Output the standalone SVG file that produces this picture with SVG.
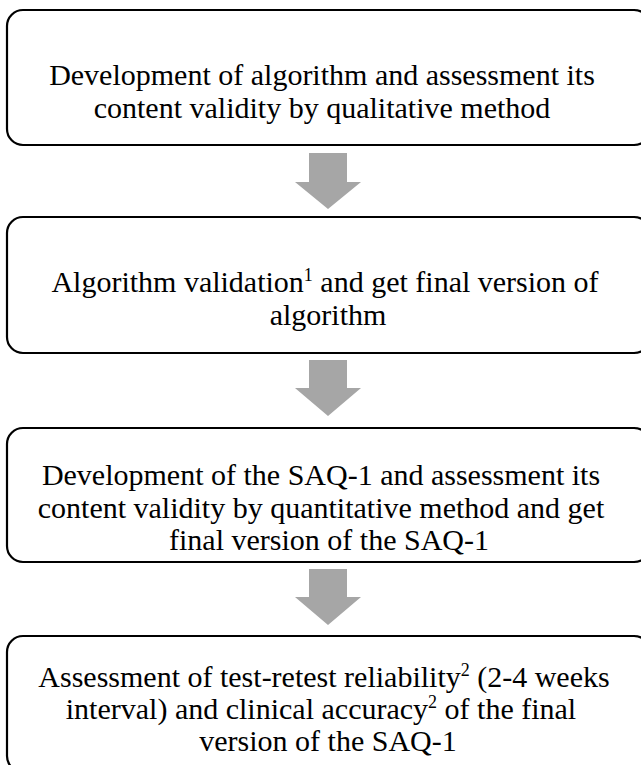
<svg xmlns="http://www.w3.org/2000/svg" width="641" height="765" viewBox="0 0 641 765">
<defs>
<style>
.box{fill:#ffffff;stroke:#000000;stroke-width:2.2}
text{font-family:'Liberation Serif','Times New Roman',Times,serif;font-size:30px;fill:#000000;text-anchor:middle}
.sup{font-size:18px}
.arr{fill:#a6a6a6;stroke:none}
</style>
</defs>
<rect x="0" y="0" width="641" height="765" fill="#ffffff"/>
<g id="connectors">
<path class="arr" d="M309,153 H347 V182 H361 L328,209 L295,182 H309 Z"/>
<path class="arr" d="M309,360 H347 V388 H361 L328,416 L295,388 H309 Z"/>
<path class="arr" d="M309,569 H347 V597 H361 L328,625 L295,597 H309 Z"/>
</g>
<g id="node1">
<rect class="box" x="7" y="10" width="643" height="135" rx="16" ry="16"/>
<text x="322" y="85">Development of algorithm and assessment its</text>
<text x="322" y="118">content validity by qualitative method</text>
</g>
<g id="node2">
<rect class="box" x="7" y="217" width="643" height="136" rx="16" ry="16"/>
<text x="325" y="292">Algorithm validation<tspan class="sup" dy="-11">1</tspan><tspan dy="11"> and get final version of</tspan></text>
<text x="328" y="325">algorithm</text>
</g>
<g id="node3">
<rect class="box" x="7" y="428" width="643" height="134" rx="16" ry="16"/>
<text x="321" y="485">Development of the SAQ-1 and assessment its</text>
<text x="321" y="518">content validity by quantitative method and get</text>
<text x="329" y="550">final version of the SAQ-1</text>
</g>
<g id="node4">
<rect class="box" x="7" y="636" width="643" height="136" rx="16" ry="16"/>
<text x="324" y="687">Assessment of test-retest reliability<tspan class="sup" dy="-11">2</tspan><tspan dy="11"> (2-4 weeks</tspan></text>
<text x="321" y="719">interval) and clinical accuracy<tspan class="sup" dy="-11">2</tspan><tspan dy="11"> of the final</tspan></text>
<text x="328" y="751">version of the SAQ-1</text>
</g>
</svg>
